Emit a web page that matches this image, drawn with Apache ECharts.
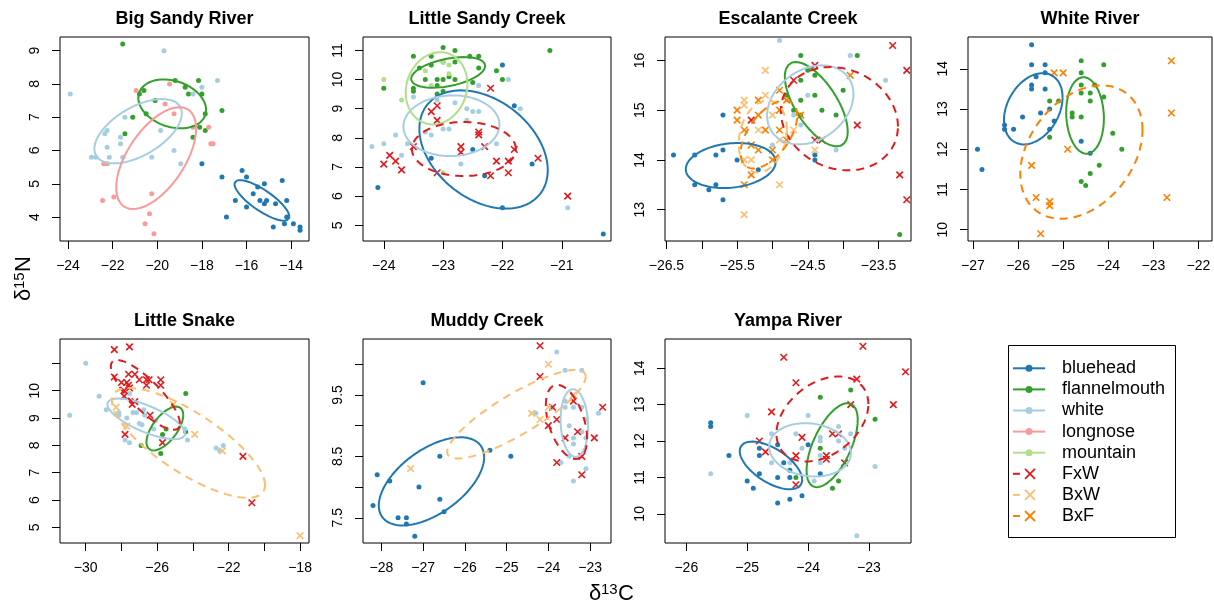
<!DOCTYPE html>
<html>
<head>
<meta charset="utf-8">
<script src="https://cdn.jsdelivr.net/npm/echarts@6/dist/echarts.min.js"></script>
<style>
  html, body { margin: 0; background: #fff; }
  #chart { width: 1214px; height: 605px; }
</style>
</head>
<body>
<div id="chart"></div>
<script>
// species / hybrid groups shown in the legend
var groups = ['bluehead', 'flannelmouth', 'white', 'longnose', 'mountain', 'FxW', 'BxW', 'BxF'];
var hybrids = ['FxW', 'BxW', 'BxF'];
var colors = {
    bluehead: '#1F78B4', flannelmouth: '#33A02C', white: '#A6CEE3', longnose: '#FB9A99',
    mountain: '#B2DF8A', FxW: '#E31A1C', BxW: '#FDBF6F', BxF: '#FF7F00'
};

// ---- Big Sandy River ----
var bsBluehead = [[-18.0,5.6],[-17.1,5.2],[-16.2,5.4],[-16.0,5.2],[-16.5,4.5],[-16.0,4.3],[-15.7,4.7],[-15.5,4.9],[-15.2,5.0],[-15.4,4.5],[-15.2,4.4],[-15.1,4.5],[-14.7,4.4],[-14.4,5.1],[-14.2,4.5],[-16.9,4.0],[-14.8,3.7],[-14.3,3.8],[-14.2,4.0],[-13.9,3.8],[-13.6,3.7],[-13.6,3.6]];
var bsFlannel = [[-21.55,9.2],[-20.6,7.8],[-20.8,7.7],[-20.1,7.5],[-21.1,7.0],[-21.45,6.5],[-20.5,7.1],[-19.2,8.1],[-18.75,7.9],[-18.6,7.7],[-18.15,8.1],[-18.0,7.7],[-17.1,7.2],[-17.85,7.1],[-18.1,6.7],[-17.85,6.6],[-18.4,6.4]];
var bsWhite = [[-23.9,7.7],[-19.7,9.0],[-17.3,8.1],[-18.0,7.9],[-18.4,7.7],[-21.45,7.0],[-22.25,6.6],[-22.35,6.5],[-21.65,6.4],[-22.25,6.1],[-21.65,6.2],[-22.95,5.8],[-22.75,5.8],[-22.15,5.8],[-21.55,5.8],[-20.25,5.8],[-19.85,6.6],[-19.25,6.0],[-18.95,5.6]];
var bsLongnose = [[-20.95,7.8],[-19.45,8.0],[-19.65,7.4],[-19.25,7.1],[-18.4,6.7],[-17.7,6.7],[-17.6,6.2],[-17.5,6.2],[-22.4,5.6],[-22.25,5.6],[-22.45,4.5],[-21.95,4.6],[-20.25,4.7],[-20.35,4.1],[-20.55,3.8],[-20.15,3.5]];
// ellipse: [centre x, centre y, half width, half height, correlation]
var bsEllipses = [['bluehead',[-15.31,4.50,1.23,0.61,-0.8]],['flannelmouth',[-19.33,7.40,1.52,0.735,-0.25]],['white',[-20.86,6.58,1.96,0.967,0.55]],['longnose',[-20.05,5.77,1.79,1.53,0.58]]];

// ---- Little Sandy Creek ----
var lsBluehead = [[-24.1,6.3],[-23.2,7.3],[-22.5,7.6],[-22.3,6.7],[-22.0,10.5],[-22.0,5.6],[-21.8,9.1],[-21.5,7.1],[-20.3,4.7]];
var lsFlannel = [[-23.0,11.1],[-22.8,11.0],[-23.5,10.8],[-23.2,10.8],[-22.55,10.8],[-22.4,10.8],[-21.2,11.0],[-23.4,10.4],[-23.2,10.5],[-23.0,10.6],[-22.8,10.6],[-22.4,10.4],[-22.1,10.3],[-23.3,10.0],[-23.1,10.0],[-23.0,10.0],[-22.8,10.0],[-22.9,10.1],[-22.5,9.9],[-23.5,9.7],[-23.5,9.6],[-23.1,9.8],[-23.1,9.5],[-23.0,9.6],[-22.0,10.0],[-24.0,9.7]];
var lsWhite = [[-24.2,7.7],[-24.0,7.8],[-23.8,8.1],[-23.7,7.4],[-23.6,7.8],[-23.5,9.4],[-23.3,8.2],[-23.2,8.1],[-23.1,9.3],[-23.0,8.3],[-22.9,8.3],[-22.8,9.2],[-22.6,9.0],[-22.5,8.9],[-22.4,8.9],[-22.6,8.6],[-22.7,7.1],[-22.4,9.8],[-22.1,7.8],[-21.9,10.0],[-21.7,9.0],[-20.9,5.6]];
var lsMountain = [[-24.0,10.0],[-23.7,9.3],[-23.3,10.3],[-22.9,10.5],[-22.9,10.2],[-23.2,9.8],[-23.0,6.8],[-23.0,10.6]];
var lsFxW = [[-24.0,7.1],[-23.9,7.4],[-23.8,7.2],[-23.7,6.9],[-23.5,7.7],[-23.2,8.9],[-23.1,9.1],[-23.1,8.6],[-23.1,6.8],[-22.7,7.7],[-22.7,7.5],[-22.4,8.2],[-22.4,8.1],[-22.3,7.7],[-22.2,9.7],[-22.2,6.7],[-22.1,7.2],[-21.9,7.2],[-21.9,6.8],[-21.8,7.6],[-21.4,7.3],[-20.9,6.0]];
var lsEllipses = [['bluehead',[-22.318,7.60,1.082,2.029,-0.35]],['flannelmouth',[-22.915,10.245,0.624,0.525,0.42]],['white',[-22.86,8.417,0.81,1.04,0.03]],['mountain',[-23.11,9.70,0.52,1.24,0.12]],['FxW',[-22.65,7.617,0.876,0.926,0.0]]];

// ---- Escalante Creek ----
var esBluehead = [[-26.4,14.1],[-26.1,14.1],[-26.1,13.5],[-25.9,13.4],[-25.8,14.1],[-25.8,13.5],[-25.7,14.9],[-25.7,14.2],[-25.7,13.2],[-25.5,14.0],[-25.2,13.8],[-24.4,14.1],[-24.4,14.0]];
var esFlannel = [[-24.6,16.1],[-24.5,15.8],[-23.8,16.1],[-24.6,15.6],[-24.4,15.7],[-24.6,15.2],[-24.4,15.3],[-24.8,15.3],[-24.7,15.0],[-24.6,14.9],[-24.3,15.0],[-24.1,14.9],[-24.0,15.4],[-23.2,12.5]];
var esWhite = [[-24.9,16.4],[-23.9,16.1],[-23.4,15.6],[-24.5,15.3],[-24.7,14.9],[-24.6,14.7],[-25.0,14.3],[-24.1,14.2]];
var esFxW = [[-25.3,14.8],[-24.7,15.6],[-24.4,15.9],[-24.4,14.4],[-24.3,14.4],[-23.8,14.7],[-23.3,16.3],[-23.1,15.8],[-23.2,13.7],[-23.1,13.2]];
var esBxW = [[-25.4,15.2],[-25.4,15.1],[-25.2,14.6],[-25.4,14.0],[-25.3,14.0],[-25.3,14.3],[-25.1,15.3],[-25.1,15.8],[-25.0,14.9],[-24.9,14.4],[-24.9,13.5],[-25.4,12.9],[-24.7,14.6],[-24.4,14.2],[-25.1,14.6]];
var esBxF = [[-25.5,15.0],[-25.5,14.8],[-25.4,14.6],[-25.2,15.2],[-25.2,14.9],[-25.1,14.6],[-25.3,14.3],[-25.2,14.2],[-25.3,13.7],[-25.4,13.5],[-25.0,14.2],[-25.0,14.0],[-24.9,15.4],[-24.9,15.0],[-24.9,14.6],[-24.8,15.2],[-24.8,14.4],[-24.6,14.9],[-23.9,15.7]];
var esEllipses = [['bluehead',[-25.59,13.887,0.636,0.452,0.16]],['flannelmouth',[-24.38,15.12,0.445,0.847,-0.65]],['white',[-24.465,15.106,0.611,0.794,0.27]],['FxW',[-24.053,14.828,0.828,1.038,-0.15]],['BxW',[-25.137,14.47,0.341,0.723,0.2]],['BxF',[-25.05,14.51,0.4,0.683,0.55]]];

// ---- White River ----
var wrBluehead = [[-25.7,14.6],[-25.7,14.1],[-25.4,14.1],[-25.4,13.9],[-25.6,13.8],[-25.7,13.6],[-25.7,13.5],[-25.4,13.5],[-25.3,13.0],[-25.5,12.9],[-25.9,12.8],[-26.3,12.6],[-26.3,12.5],[-26.1,12.5],[-25.3,12.5],[-25.2,12.7],[-26.9,12.0],[-26.8,11.5],[-24.6,12.2],[-24.4,11.9]];
var wrFlannel = [[-24.6,14.2],[-24.1,14.1],[-24.6,13.9],[-24.6,13.6],[-24.3,13.6],[-24.4,13.4],[-24.6,13.4],[-24.1,13.3],[-25.3,13.2],[-25.1,13.2],[-24.4,13.2],[-24.8,12.9],[-24.8,12.8],[-24.6,12.8],[-25.3,12.3],[-23.9,12.4],[-23.7,12.0],[-24.2,11.6],[-24.4,11.4],[-24.6,11.2],[-24.5,11.1]];
var wrBxF = [[-25.2,13.9],[-25.0,13.9],[-25.7,11.6],[-24.9,12.0],[-25.6,10.8],[-25.3,10.7],[-25.3,10.6],[-25.5,9.9],[-22.6,14.2],[-22.6,12.9],[-22.7,10.8]];
var wrEllipses = [['bluehead',[-25.663,13.006,0.65,0.886,0.32]],['flannelmouth',[-24.515,12.84,0.418,0.952,-0.08]],['BxF',[-24.596,11.93,1.355,1.657,0.33]]];

// ---- Little Snake ----
var lkWhite = [[-30.0,11.0],[-30.9,9.1],[-29.25,9.8],[-28.85,9.3],[-28.15,9.2],[-28.15,9.1],[-27.7,9.0],[-27.55,9.9],[-27.35,9.2],[-27.15,9.2],[-27.0,8.8],[-26.85,8.75],[-26.75,9.3],[-26.7,9.1],[-26.2,8.6],[-26.1,8.9],[-27.8,8.2],[-27.55,8.1],[-24.45,8.6],[-24.3,8.2],[-22.7,7.9],[-22.3,8.0],[-22.5,7.8]];
var lkFlannel = [[-24.4,9.9],[-25.5,8.6],[-25.7,8.4],[-26.9,8.0],[-24.4,8.5],[-25.8,7.7]];
var lkFxW = [[-28.4,11.5],[-27.55,11.6],[-28.4,10.5],[-27.6,10.6],[-27.25,10.6],[-27.7,10.3],[-27.6,10.2],[-27.55,10.1],[-27.0,10.4],[-26.6,10.4],[-26.45,10.4],[-26.6,10.2],[-25.8,10.4],[-25.8,10.2],[-27.85,10.0],[-27.85,9.8],[-27.25,9.6],[-27.4,9.5],[-26.4,9.1],[-27.8,8.4],[-25.7,8.1],[-21.2,7.6],[-20.7,5.9],[-28.0,10.3]];
var lkBxW = [[-28.3,9.4],[-27.7,8.7],[-25.1,9.5],[-23.9,8.4],[-22.35,7.8],[-18.0,4.7]];
var lkEllipses = [['flannelmouth',[-25.57,8.615,1.03,0.803,0.62]],['white',[-26.61,8.97,2.18,0.742,-0.72]],['FxW',[-26.66,9.845,1.935,1.277,-0.82]],['BxW',[-24.25,8.09,4.29,2.008,-0.77]]];

// ---- Muddy Creek ----
var mdBluehead = [[-28.2,7.7],[-28.1,8.2],[-27.8,8.1],[-27.6,7.5],[-27.4,7.5],[-27.4,7.4],[-27.2,7.2],[-27.0,9.7],[-27.1,8.0],[-26.6,8.5],[-26.6,7.8],[-26.5,7.6],[-25.4,8.6],[-24.9,8.5]];
var mdWhite = [[-23.8,10.2],[-23.6,9.9],[-23.2,9.9],[-24.3,9.2],[-23.6,9.4],[-23.4,9.3],[-23.6,9.3],[-23.2,9.3],[-23.5,9.0],[-23.4,8.8],[-23.4,8.7],[-23.2,8.9],[-23.1,9.1],[-23.1,8.8],[-22.8,9.2],[-23.7,8.4],[-23.5,8.5],[-23.1,8.3],[-23.4,8.1],[-23.9,9.3]];
var mdFxW = [[-24.2,10.3],[-24.2,9.8],[-23.9,9.3],[-24.0,9.0],[-23.8,9.1],[-23.6,8.8],[-23.4,9.4],[-23.3,8.9],[-23.2,8.5],[-22.9,8.8],[-22.7,9.3],[-23.8,8.4],[-23.2,8.2]];
var mdBxW = [[-27.3,8.3],[-24.0,10.0],[-24.4,9.2],[-24.2,9.1],[-24.0,9.3],[-23.4,9.5]];
var mdEllipses = [['bluehead',[-26.80,8.093,1.262,0.717,0.55]],['white',[-23.378,9.042,0.33,0.552,-0.1]],['FxW',[-23.567,9.061,0.494,0.603,-0.45]],['BxW',[-24.764,9.185,1.66,0.722,0.85]]];

// ---- Yampa River ----
var ypBluehead = [[-25.6,12.5],[-25.6,12.4],[-25.3,11.6],[-24.8,11.8],[-24.8,11.6],[-24.8,11.1],[-24.5,11.9],[-24.4,11.4],[-24.3,11.2],[-24.5,11.0],[-24.3,11.0],[-25.0,10.9],[-24.9,10.7],[-24.5,10.3],[-24.3,10.4],[-24.1,10.5],[-24.0,11.9],[-23.8,11.1]];
var ypFlannel = [[-23.3,13.4],[-23.8,13.2],[-22.9,12.6],[-23.8,11.8],[-24.2,11.0],[-23.5,10.9],[-23.6,10.7]];
var ypWhite = [[-25.6,11.1],[-25.0,12.7],[-24.6,12.2],[-24.0,12.7],[-24.2,12.2],[-24.6,11.4],[-24.3,11.4],[-24.1,11.8],[-23.8,12.1],[-23.8,12.0],[-23.8,11.6],[-23.8,11.4],[-23.5,12.4],[-23.5,12.0],[-23.4,11.8],[-23.3,12.2],[-22.9,11.3],[-23.9,10.9],[-23.2,9.4]];
var ypFxW = [[-24.4,14.3],[-24.2,13.6],[-23.1,14.6],[-22.4,13.9],[-23.2,13.7],[-22.6,13.0],[-23.3,13.0],[-24.6,12.8],[-24.1,12.1],[-23.6,12.2],[-23.5,12.2],[-24.8,12.0],[-24.7,11.7],[-24.2,11.6],[-23.7,11.6],[-23.7,11.5],[-23.4,11.4],[-24.2,10.8]];
var ypEllipses = [['bluehead',[-24.61,11.33,0.513,0.655,-0.6]],['flannelmouth',[-23.605,11.885,0.42,1.153,0.6]],['white',[-23.968,11.757,0.672,0.732,-0.12]],['FxW',[-23.765,12.604,0.755,1.167,0.35]]];

// axis ranges and ticks
var bsX = [-24.36, -13.2], bsY = [3.28, 9.41];
var lsX = [-24.35, -20.17], lsY = [4.46, 11.46];
var esX = [-26.52, -23.04], esY = [12.37, 16.47];
var wrX = [-27.11, -21.7], wrY = [9.72, 14.79];
var lkX = [-31.44, -17.5], lkY = [4.43, 11.89];
var mdX = [-28.44, -22.5], mdY = [7.09, 10.41];
var ypX = [-26.35, -22.31], ypY = [9.2, 14.8];

var panels = [
    {title: 'Big Sandy River', box: [60, 37, 249, 204], xr: bsX, yr: bsY,
     xTicks: [-24,-22,-20,-18,-16,-14], xLabels: [-24,-22,-20,-18,-16,-14],
     yTicks: [4,5,6,7,8,9], yLabels: [4,5,6,7,8,9],
     pts: [['bluehead', bsBluehead], ['flannelmouth', bsFlannel], ['white', bsWhite], ['longnose', bsLongnose]], ell: bsEllipses},
    {title: 'Little Sandy Creek', box: [363, 37, 248, 204], xr: lsX, yr: lsY,
     xTicks: [-24,-23,-22,-21], xLabels: [-24,-23,-22,-21],
     yTicks: [5,6,7,8,9,10,11], yLabels: [5,6,7,8,9,10,11],
     pts: [['bluehead', lsBluehead], ['flannelmouth', lsFlannel], ['white', lsWhite], ['mountain', lsMountain], ['FxW', lsFxW]], ell: lsEllipses},
    {title: 'Escalante Creek', box: [665, 37, 246, 204], xr: esX, yr: esY,
     xTicks: [-26.5,-26,-25.5,-25,-24.5,-24,-23.5], xLabels: [-26.5,-25.5,-24.5,-23.5],
     yTicks: [13,14,15,16], yLabels: [13,14,15,16],
     pts: [['bluehead', esBluehead], ['flannelmouth', esFlannel], ['white', esWhite], ['FxW', esFxW], ['BxW', esBxW], ['BxF', esBxF]], ell: esEllipses},
    {title: 'White River', box: [968, 37, 244, 204], xr: wrX, yr: wrY,
     xTicks: [-27,-26,-25,-24,-23,-22], xLabels: [-27,-26,-25,-24,-23,-22],
     yTicks: [10,11,12,13,14], yLabels: [10,11,12,13,14],
     pts: [['bluehead', wrBluehead], ['flannelmouth', wrFlannel], ['BxF', wrBxF]], ell: wrEllipses},
    {title: 'Little Snake', box: [60, 339, 249, 204], xr: lkX, yr: lkY,
     xTicks: [-30,-28,-26,-24,-22,-20,-18], xLabels: [-30,-26,-22,-18],
     yTicks: [5,6,7,8,9,10,11], yLabels: [5,6,7,8,9,10],
     pts: [['flannelmouth', lkFlannel], ['white', lkWhite], ['FxW', lkFxW], ['BxW', lkBxW]], ell: lkEllipses},
    {title: 'Muddy Creek', box: [363, 339, 248, 204], xr: mdX, yr: mdY,
     xTicks: [-28,-27,-26,-25,-24,-23], xLabels: [-28,-27,-26,-25,-24,-23],
     yTicks: [7.5,8,8.5,9,9.5,10], yLabels: [7.5,8.5,9.5],
     pts: [['bluehead', mdBluehead], ['white', mdWhite], ['FxW', mdFxW], ['BxW', mdBxW]], ell: mdEllipses},
    {title: 'Yampa River', box: [665, 339, 246, 204], xr: ypX, yr: ypY,
     xTicks: [-26,-25,-24,-23], xLabels: [-26,-25,-24,-23],
     yTicks: [10,11,12,13,14], yLabels: [10,11,12,13,14],
     pts: [['bluehead', ypBluehead], ['flannelmouth', ypFlannel], ['white', ypWhite], ['FxW', ypFxW]], ell: ypEllipses}
];

var FONT = '"Liberation Sans", Arial, sans-serif';
var crossPath = 'path://M0,0L10,10M10,0L0,10';

function minus(v) { return String(v).replace('-', '\u2212'); }

// outline of a standard ellipse in data units
function ellipse(e) {
    var phi = Math.acos(e[4]), out = [];
    for (var k = 0; k <= 120; k++) {
        var t = 2 * Math.PI * k / 120;
        out.push([e[0] + e[2] * Math.cos(t), e[1] + e[3] * Math.cos(t - phi)]);
    }
    return out;
}

// delta + superscript mass number + element, as three texts in one group
function isoLabel(x, y, rot, mass, el) {
    var big = '22px ' + FONT, small = '15px ' + FONT;
    return {type: 'group', x: x, y: y, rotation: rot, children: [
        {type: 'text', x: -22, y: 0, style: {text: '\u03b4', font: big, fill: '#000', align: 'left', verticalAlign: 'bottom'}},
        {type: 'text', x: -10, y: -8, style: {text: mass, font: small, fill: '#000', align: 'left', verticalAlign: 'bottom'}},
        {type: 'text', x: 7, y: 0, style: {text: el, font: big, fill: '#000', align: 'left', verticalAlign: 'bottom'}}
    ]};
}

var grids = [], xAxes = [], yAxes = [], series = [], graphics = [];
panels.forEach(function (p, i) {
    grids.push({left: p.box[0], top: p.box[1], width: p.box[2], height: p.box[3],
        show: true, borderColor: '#000', borderWidth: 1, backgroundColor: 'transparent'});
    var tick = function (vals) { return {show: true, inside: false, length: 8, customValues: vals, lineStyle: {color: '#000', width: 1}}; };
    xAxes.push({type: 'value', gridIndex: i, min: p.xr[0], max: p.xr[1],
        axisLine: {show: false}, splitLine: {show: false}, axisTick: tick(p.xTicks),
        axisLabel: {customValues: p.xLabels, formatter: minus, margin: 18, color: '#000', fontSize: 14, fontFamily: FONT}});
    yAxes.push({type: 'value', gridIndex: i, min: p.yr[0], max: p.yr[1],
        axisLine: {show: false}, splitLine: {show: false}, axisTick: tick(p.yTicks),
        axisLabel: {customValues: p.yLabels, formatter: minus, rotate: 90, margin: 18, color: '#000', fontSize: 14, fontFamily: FONT}});
    p.pts.forEach(function (s) {
        var hyb = hybrids.indexOf(s[0]) >= 0, col = colors[s[0]];
        series.push({type: 'scatter', name: s[0], xAxisIndex: i, yAxisIndex: i, data: s[1], silent: true, z: 2,
            symbol: hyb ? crossPath : 'circle', symbolSize: hyb ? 6.5 : 5,
            itemStyle: hyb ? {color: 'rgba(0,0,0,0)', borderColor: col, borderWidth: 1.6, opacity: 1} : {color: col, opacity: 1}});
    });
    p.ell.forEach(function (s) {
        var hyb = hybrids.indexOf(s[0]) >= 0;
        series.push({type: 'line', name: s[0], xAxisIndex: i, yAxisIndex: i, data: ellipse(s[1]), silent: true, z: 3,
            showSymbol: false, symbol: 'none',
            lineStyle: {color: colors[s[0]], width: 2, type: hyb ? [8, 6] : 'solid'}});
    });
    graphics.push({type: 'text', x: p.box[0] + p.box[2] / 2, y: p.box[1] - 18,
        style: {text: p.title, font: 'bold 18px ' + FONT, fill: '#000', align: 'center', verticalAlign: 'middle'}});
});

// axis titles
graphics.push(isoLabel(35, 279, Math.PI / 2, '15', 'N'));
graphics.push(isoLabel(611, 605, 0, '13', 'C'));

// legend box
graphics.push({type: 'rect', shape: {x: 1008.5, y: 345.5, width: 167, height: 192},
    style: {fill: '#fff', stroke: '#000', lineWidth: 1}});
groups.forEach(function (g, k) {
    var y = 368.3 + k * 21.1, col = colors[g];
    if (hybrids.indexOf(g) >= 0) {
        graphics.push({type: 'line', shape: {x1: 1013, y1: y, x2: 1020, y2: y}, style: {stroke: col, lineWidth: 2}});
        graphics.push({type: 'line', shape: {x1: 1025, y1: y - 5, x2: 1035, y2: y + 5}, style: {stroke: col, lineWidth: 1.8}});
        graphics.push({type: 'line', shape: {x1: 1035, y1: y - 5, x2: 1025, y2: y + 5}, style: {stroke: col, lineWidth: 1.8}});
    } else {
        graphics.push({type: 'line', shape: {x1: 1013, y1: y, x2: 1045, y2: y}, style: {stroke: col, lineWidth: 2}});
        graphics.push({type: 'circle', shape: {cx: 1029, cy: y, r: 3.5}, style: {fill: col}});
    }
    graphics.push({type: 'text', x: 1062, y: y, style: {text: g, font: '18px ' + FONT, fill: '#000', align: 'left', verticalAlign: 'middle'}});
});

var chart = echarts.init(document.getElementById('chart'), null, {renderer: 'canvas'});
chart.setOption({
    backgroundColor: '#fff',
    animation: false,
    grid: grids,
    xAxis: xAxes,
    yAxis: yAxes,
    series: series,
    graphic: graphics
});
</script>
</body>
</html>
